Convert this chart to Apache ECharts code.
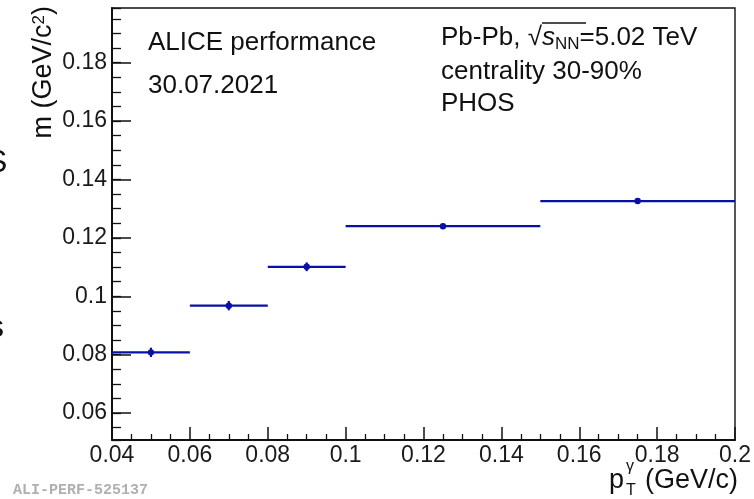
<!DOCTYPE html>
<html>
<head>
<meta charset="utf-8">
<script src="https://cdn.jsdelivr.net/npm/echarts@6/dist/echarts.min.js"></script>
<style>
  html, body { margin: 0; padding: 0; background: #fff; }
  #main { width: 754px; height: 499px; }
</style>
</head>
<body>
<div id="main"></div>
<script>
// pT bins (GeV/c) and fitted pi0 mass (GeV/c^2)
var binLo = [0.04, 0.06, 0.08, 0.10, 0.15];
var binHi = [0.06, 0.08, 0.10, 0.15, 0.20];
var mass = [0.0808, 0.0968, 0.1101, 0.1240, 0.1326];
var massErr = [0.0016, 0.0016, 0.0015, 0.0007, 0.0007];

var xTicks = { min: 0.04, max: 0.2, interval: 0.02 };
var yRange = { min: 0.0508, max: 0.1987 };

var FONT = 'Liberation Sans';
var BLUE = '#0a10a6';

(function() {
  var myChart = echarts.init(document.getElementById('main'));
  var points = [];
  mass.forEach(function(m, i) {
    points.push([binLo[i], binHi[i], (binLo[i] + binHi[i]) / 2, m, massErr[i]]);
  });

  // horizontal bar = bin width, vertical bar = stat. error, dot = value
  function renderPoint(params, api) {
    var lo = api.coord([api.value(0), api.value(3)]);
    var hi = api.coord([api.value(1), api.value(3)]);
    var c = api.coord([api.value(2), api.value(3)]);
    var top = api.coord([api.value(2), api.value(3) + api.value(4)]);
    var bot = api.coord([api.value(2), api.value(3) - api.value(4)]);
    var st = { stroke: BLUE, lineWidth: 2.2 };
    return {
      type: 'group',
      children: [
        { type: 'line', shape: { x1: lo[0], y1: lo[1], x2: hi[0], y2: hi[1] }, style: st },
        { type: 'line', shape: { x1: top[0], y1: top[1], x2: bot[0], y2: bot[1] }, style: st },
        { type: 'circle', shape: { cx: c[0], cy: c[1], r: 3.2 }, style: { fill: BLUE } }
      ]
    };
  }

  function txt(x, y, text, size, extra) {
    var style = { text: text, verticalAlign: 'middle', font: size + 'px "' + FONT + '"', fill: '#111' };
    return Object.assign({ type: 'text', x: x, y: y, style: Object.assign(style, extra || {}) });
  }

  var axisText = { color: '#1a1a1a', fontFamily: FONT, fontSize: 23 };
  var option = {
    backgroundColor: '#fff',
    animation: false,
    grid: {
      left: 112, right: 19, top: 8, bottom: 59,
      show: true, borderColor: '#111', borderWidth: 1.4, backgroundColor: 'transparent'
    },
    xAxis: {
      type: 'value',
      min: xTicks.min, max: xTicks.max, interval: xTicks.interval,
      axisLine: { lineStyle: { color: '#111', width: 2 } },
      axisTick: { inside: true, length: 13, lineStyle: { color: '#111', width: 1.5 } },
      minorTick: { show: true, splitNumber: 4, length: 6, lineStyle: { color: '#111', width: 1.3 } },
      splitLine: { show: false },
      axisLabel: Object.assign({ margin: 4 }, axisText)
    },
    yAxis: [{
      type: 'value',
      min: yRange.min, max: yRange.max, splitNumber: 7,
      axisLine: { show: true, lineStyle: { color: '#111', width: 2 } },
      axisTick: { show: true, inside: true, length: 19, lineStyle: { color: '#111', width: 1.5 } },
      splitLine: { show: false },
      axisLabel: Object.assign({ margin: 5, showMinLabel: false, showMaxLabel: false }, axisText)
    }, {
      // minor ticks every 0.005
      type: 'value', position: 'left', offset: 0,
      min: yRange.min, max: yRange.max, splitNumber: 30,
      axisLine: { show: false },
      axisTick: { show: true, inside: true, length: 9, lineStyle: { color: '#111', width: 1.3 } },
      splitLine: { show: false },
      axisLabel: { show: false }
    }],
    graphic: [
      { type: 'text', x: 44, y: 6, rotation: Math.PI / 2,
        style: { text: 'm (GeV/c{sup|2})', align: 'right', verticalAlign: 'middle',
          font: '27px "' + FONT + '"', fill: '#111',
          rich: { sup: { fontSize: 17, fontFamily: FONT, verticalAlign: 'top', padding: [0, 0, 10, 0] } } } },
      // x axis title
      txt(738, 481, '(GeV/c)', 27, { align: 'right' }),
      txt(609, 481, 'p', 27),
      txt(626, 491, 'T', 16),
      txt(626, 467, 'γ', 16),
      txt(148, 43, 'ALICE performance', 26),
      txt(148, 86, '30.07.2021', 26),
      txt(441, 38, 'Pb-Pb, √{s|s}{sub|NN}=5.02 TeV', 26, {
        rich: {
          s: { fontSize: 26, fontFamily: FONT, fontStyle: 'italic' },
          sub: { fontSize: 17, fontFamily: FONT, padding: [12, 0, 0, 0] }
        }
      }),
      { type: 'line', shape: { x1: 542, y1: 23, x2: 586, y2: 23 }, style: { stroke: '#111', lineWidth: 1.3 } },
      txt(441, 72, 'centrality 30-90%', 26),
      txt(441, 104, 'PHOS', 26),
      { type: 'text', x: 13, y: 490,
        style: { text: 'ALI-PERF-525137', verticalAlign: 'middle',
          font: 'bold 15px "Liberation Mono"', fill: '#b0b0b0' } },
      txt(-14, 163, 'S', 32),
      txt(-12, 328, 's', 32)
    ],
    series: [{
      type: 'custom',
      name: 'mass',
      renderItem: renderPoint,
      encode: { x: [0, 1, 2], y: [3] },
      clip: false,
      z: 10,
      data: points
    }]
  };
  myChart.setOption(option);
})();
</script>
</body>
</html>
